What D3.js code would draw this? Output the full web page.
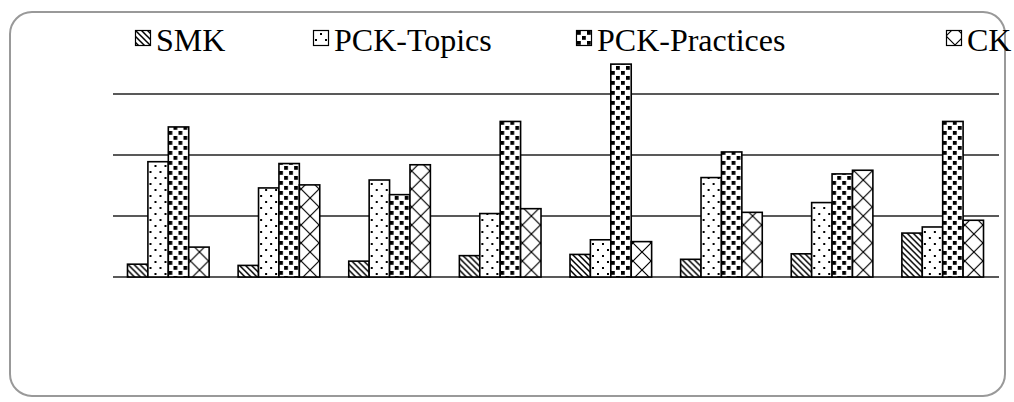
<!DOCTYPE html>
<html>
<head>
<meta charset="utf-8">
<script src="https://cdn.jsdelivr.net/npm/d3@7/dist/d3.min.js"></script>
<style>
  html, body { margin: 0; padding: 0; background: #fff; }
  svg { display: block; }
</style>
</head>
<body>
<svg id="chart" width="1014" height="402"></svg>
<script>
// ---- data ----
const categories = ["1", "2", "3", "4", "5", "6", "7", "8"];
const seriesNames = ["SMK", "PCK-Topics", "PCK-Practices", "CK"];
const smk          = [2.1, 1.9, 2.6, 3.5, 3.7, 2.9, 3.8, 7.2];
const pckTopics    = [18.9, 14.6, 15.9, 10.4, 6.1, 16.3, 12.2, 8.2];
const pckPractices = [24.6, 18.6, 13.5, 25.5, 34.9, 20.5, 16.9, 25.5];
const ck           = [4.9, 15.1, 18.4, 11.2, 5.8, 10.6, 17.5, 9.3];
const gridTicks    = [0, 10, 20, 30];

const seriesValues = [smk, pckTopics, pckPractices, ck];
const patternIds = ["p-smk", "p-pckt", "p-pckp", "p-ck"];

const svg = d3.select("#chart");

// ---- patterns ----
const defs = svg.append("defs");
function pat(id, w, h) {
  const p = defs.append("pattern").attr("id", id)
    .attr("patternUnits", "userSpaceOnUse").attr("width", w).attr("height", h);
  p.append("rect").attr("width", w).attr("height", h).attr("fill", "#fff");
  return p;
}
// SMK: backslash diagonals
pat("p-smk", 6, 6).append("path")
  .attr("d", "M0,0L6,6M-1,5L1,7M5,-1L7,1")
  .attr("stroke", "#000").attr("stroke-width", 1.5);
// PCK-Topics: sparse dots
{
  const p = pat("p-pckt", 10, 12);
  p.append("rect").attr("x", 2).attr("y", 3).attr("width", 2).attr("height", 2).attr("fill", "#000");
  p.append("rect").attr("x", 7).attr("y", 9).attr("width", 2).attr("height", 2).attr("fill", "#000");
}
// PCK-Practices: big squares
{
  const p = pat("p-pckp", 10, 10);
  p.append("rect").attr("x", 1).attr("y", 1).attr("width", 3.8).attr("height", 3.8).attr("fill", "#000");
  p.append("rect").attr("x", 6).attr("y", 6).attr("width", 3.8).attr("height", 3.8).attr("fill", "#000");
}
// CK: wide cross hatch
pat("p-ck", 18, 18).append("path")
  .attr("d", "M0,18L18,0M-4,4L4,-4M14,22L22,14M0,0L18,18M-4,14L4,22M14,-4L22,4")
  .attr("stroke", "#000").attr("stroke-width", 1.2);

// ---- frame ----
svg.append("rect")
  .attr("x", 10).attr("y", 12).attr("width", 995).attr("height", 384)
  .attr("rx", 22).attr("ry", 22)
  .attr("fill", "none").attr("stroke", "#999").attr("stroke-width", 2);

// ---- scales ----
const x0 = d3.scaleBand().domain(categories).range([113, 998])
  .paddingInner(0.262).paddingOuter(0.131);
const x1 = d3.scaleBand().domain(seriesNames).range([0, x0.bandwidth()]).padding(0);
const y = d3.scaleLinear().domain([0, 30]).range([277, 94]);

// ---- gridlines ----
svg.append("g").selectAll("line").data(gridTicks).join("line")
  .attr("x1", 113).attr("x2", 999)
  .attr("y1", d => y(d)).attr("y2", d => y(d))
  .attr("stroke", "#222").attr("stroke-width", 1.6);

// ---- bars ----
const groups = svg.append("g").selectAll("g").data(categories).join("g")
  .attr("transform", c => `translate(${x0(c)},0)`);
groups.selectAll("rect")
  .data((c, i) => seriesNames.map((s, si) => ({ s, si, v: seriesValues[si][i] })))
  .join("rect")
  .attr("x", d => x1(d.s))
  .attr("y", d => y(d.v))
  .attr("width", x1.bandwidth())
  .attr("height", d => y(0) - y(d.v))
  .attr("fill", d => `url(#${patternIds[d.si]})`)
  .attr("stroke", "#000").attr("stroke-width", 1.6);

// ---- legend ----
const legendX = [135, 313, 576, 946];
const leg = svg.append("g").selectAll("g").data(seriesNames).join("g")
  .attr("transform", (d, i) => `translate(${legendX[i]},0)`);
leg.append("rect").attr("x", 0.5).attr("y", 30.5).attr("width", 15).attr("height", 15)
  .attr("fill", (d, i) => `url(#${patternIds[i]})`)
  .attr("stroke", "#000").attr("stroke-width", 1.2);
leg.append("text").attr("x", 21).attr("y", 51)
  .style("font-family", '"Liberation Serif"')
  .style("font-size", "32px").attr("fill", "#000")
  .text(d => d);
</script>
</body>
</html>
